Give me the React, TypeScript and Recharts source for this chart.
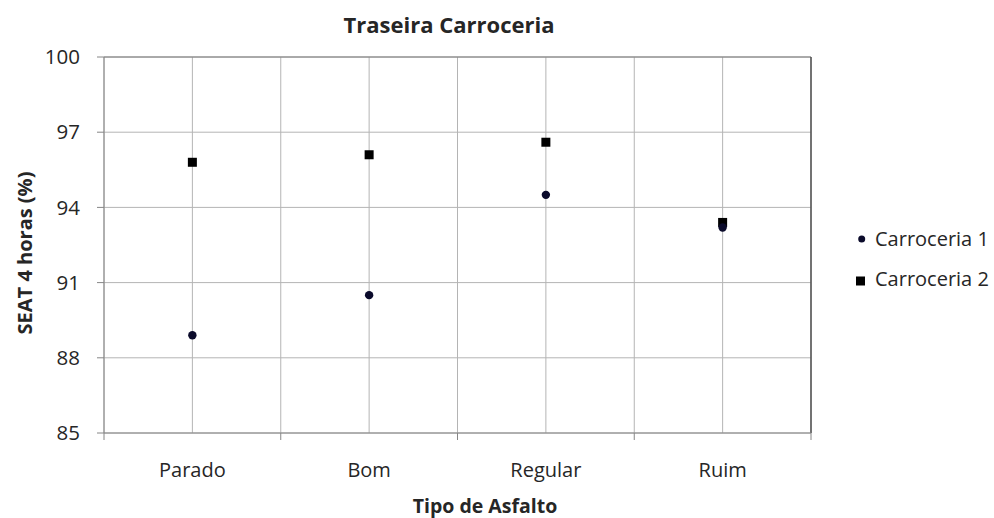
import React from "react";
import {
  ComposedChart,
  Scatter,
  XAxis,
  YAxis,
  CartesianGrid,
  ReferenceLine,
  Legend,
  Label,
} from "recharts";

const categories = ["Parado", "Bom", "Regular", "Ruim"];
const carroceria1 = [88.9, 90.5, 94.5, 93.2];
const carroceria2 = [95.8, 96.1, 96.6, 93.4];
const yTicks = [85, 88, 91, 94, 97, 100];
const xTicks = [0, 0.5, 1, 1.5, 2, 2.5, 3, 3.5, 4];

const data = categories.map((c, i) => ({
  x: i + 0.5,
  name: c,
  c1: carroceria1[i],
  c2: carroceria2[i],
}));

const FONT = "'Open Sans', 'Noto Sans', sans-serif";
const TEXT = "#262626";
const AXIS = "#868686";

const XTick = (props: any) => {
  const { x, y, payload } = props;
  const v = payload.value as number;
  if (Number.isInteger(v)) {
    return <line x1={x} x2={x} y1={y} y2={y + 7} stroke={AXIS} strokeWidth={1} />;
  }
  const idx = Math.floor(v);
  return (
    <text x={x} y={y + 44} textAnchor="middle" fontFamily={FONT} fontSize={20} fill={TEXT}>
      {categories[idx]}
    </text>
  );
};

const CircleShape = (props: any) => {
  const { cx, cy } = props;
  if (cx == null || cy == null) return null;
  return <circle cx={cx} cy={cy} r={4.2} fill="#0b0b2b" />;
};

const SquareShape = (props: any) => {
  const { cx, cy } = props;
  if (cx == null || cy == null) return null;
  return <rect x={cx - 4.5} y={cy - 4.5} width={9} height={9} fill="#000" />;
};

const LegendContent = () => (
  <svg width={150} height={80} style={{ display: "block" }}>
    <circle cx={16.7} cy={19} r={3.5} fill="#0b0b2b" />
    <text x={30} y={26} fontFamily={FONT} fontSize={20} fill={TEXT}>
      Carroceria 1
    </text>
    <rect x={11} y={56.5} width={9} height={9} fill="#000" />
    <text x={30} y={66} fontFamily={FONT} fontSize={20} fill={TEXT}>
      Carroceria 2
    </text>
  </svg>
);

export default function App() {
  return (
    <div style={{ position: "absolute", left: 0, top: 0, width: 994, height: 518, background: "#fff" }}>
      <ComposedChart
        width={994}
        height={518}
        data={data}
        margin={{ top: 57, right: 183, bottom: 0, left: 0 }}
      >
        <CartesianGrid stroke="#b4b4b4" strokeWidth={1} />
        <XAxis
          dataKey="x"
          type="number"
          domain={[0, 4]}
          ticks={xTicks}
          interval={0}
          height={85}
          tickLine={false}
          tickSize={0}
          tickMargin={0}
          axisLine={{ stroke: AXIS }}
          tick={<XTick />}
        >
          <Label
            content={(p: any) => {
              const vb = p.viewBox;
              return (
                <text
                  x={485}
                  y={vb.y + 80}
                  textAnchor="middle"
                  fontFamily={FONT}
                  fontWeight="bold"
                  fontSize={19.5}
                  fill={TEXT}
                >
                  Tipo de Asfalto
                </text>
              );
            }}
          />
        </XAxis>
        <YAxis
          type="number"
          domain={[85, 100]}
          ticks={yTicks}
          interval={0}
          width={104}
          tickSize={7}
          tickMargin={17}
          axisLine={{ stroke: AXIS }}
          tickLine={{ stroke: AXIS }}
          tick={{ fontFamily: FONT, fontSize: 20.5, fill: TEXT }}
        >
          <Label
            content={(p: any) => {
              const vb = p.viewBox;
              const cx = 24;
              const cy = vb.y + vb.height / 2 + 8;
              return (
                <text
                  x={cx}
                  y={cy}
                  transform={`rotate(-90 ${cx} ${cy})`}
                  textAnchor="middle"
                  dominantBaseline="central"
                  fontFamily={FONT}
                  fontWeight="bold"
                  fontSize={20}
                  fill={TEXT}
                >
                  SEAT 4 horas (%)
                </text>
              );
            }}
          />
        </YAxis>
        <ReferenceLine y={100} stroke="#7a7a7a" strokeWidth={1.2} />
        <ReferenceLine x={4} stroke="#505050" strokeWidth={1.5} />
        <Legend
          layout="vertical"
          align="center"
          verticalAlign="middle"
          content={<LegendContent />}
          wrapperStyle={{ position: "absolute", left: 845, top: 220, width: 150, height: 80 }}
        />
        <Scatter
          name="Carroceria 2"
          dataKey="c2"
          shape={<SquareShape />}
          isAnimationActive={false}
        />
        <Scatter
          name="Carroceria 1"
          dataKey="c1"
          shape={<CircleShape />}
          isAnimationActive={false}
        />
      </ComposedChart>
      <svg
        width={994}
        height={50}
        style={{ position: "absolute", left: 0, top: 0, pointerEvents: "none" }}
      >
        <text
          x={449}
          y={33}
          textAnchor="middle"
          fontFamily={FONT}
          fontWeight="bold"
          fontSize={22}
          fill={TEXT}
        >
          Traseira Carroceria
        </text>
      </svg>
    </div>
  );
}
